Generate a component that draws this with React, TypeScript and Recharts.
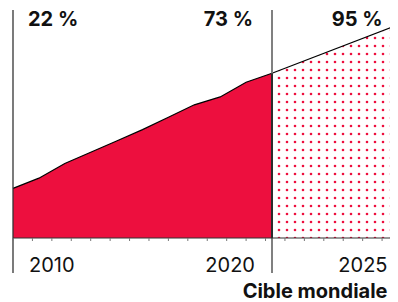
import React from 'react';
import { ComposedChart, Area, XAxis, YAxis, ReferenceLine, ReferenceDot } from 'recharts';

// share of population covered (%)
const years = [2010, 2011, 2012, 2013, 2014, 2015, 2016, 2017, 2018, 2019, 2020];
const share = [22, 26.5, 33, 38, 43, 48, 53.5, 59, 62.5, 69, 73];
const targetYears = [2020, 2025];
const targetShare = [73, 95];

const minorTicks = [
  2010, 2010.75, 2011.5, 2012.25, 2013, 2013.75, 2014.5, 2015.25, 2016, 2016.75, 2017.5,
  2018.25, 2019, 2019.75, 2020.5, 2021.25, 2022, 2022.75, 2023.5, 2024.25, 2025,
];
const yTicks = [0, 20, 40, 60, 80, 100];
const yearTicks = [2010, 2020, 2025];
const caption = 'Cible mondiale';

const RED = '#ED0F3E';
const INK = '#111111';
const FONT = 'Inter, "Noto Sans", sans-serif';
const Y_TOP = 101;
const Y_DROP = -15.5; // how far the vertical rules run below the baseline

const data = [
  ...years.map((year, i) => {
    const t = targetYears.indexOf(year);
    return { year, actual: share[i], target: t >= 0 ? targetShare[t] : null };
  }),
  ...targetYears
    .filter((y) => !years.includes(y))
    .map((year) => ({ year, actual: null, target: targetShare[targetYears.indexOf(year)] })),
];

const YearTick = (props: any) => {
  const { x, y, payload } = props;
  const v = payload.value;
  const first = v === yearTicks[0];
  const last = v === yearTicks[yearTicks.length - 1];
  const dx = first ? 16 : last ? -14 : -17;
  return (
    <g>
      <text
        x={x + dx}
        y={y + 30}
        textAnchor={first ? 'start' : 'end'}
        fontSize={20}
        fontFamily={FONT}
        fill={INK}
      >
        {v}
      </text>
      {last && (
        <text x={x - 14} y={y + 56} textAnchor="end" fontSize={20} fontWeight={700} fontFamily={FONT} fill={INK}>
          {caption}
        </text>
      )}
    </g>
  );
};

const MinorTick = () => <g />;

const pctLabel = (text: string, dx: number, anchor: 'start' | 'end') => (p: any) => (
  <text
    x={p.viewBox.x + p.viewBox.width / 2 + dx}
    y={p.viewBox.y + p.viewBox.height / 2 + 16}
    textAnchor={anchor}
    fontSize={20}
    fontWeight={700}
    fontFamily={FONT}
    fill={INK}
  >
    {text}
  </text>
);

export default function App() {
  const last = targetShare.length - 1;
  return (
    <div style={{ width: 390, height: 294, overflow: 'hidden' }}>
      <ComposedChart width={400} height={294} data={data} margin={{ top: 2, right: 6.5, left: 5, bottom: 0 }}>
        <defs>
          <pattern id="dots" patternUnits="userSpaceOnUse" x={3} y={2} width={8} height={8}>
            <circle cx={4} cy={4} r={1.3} fill={RED} />
          </pattern>
        </defs>
        <XAxis
          xAxisId="a"
          dataKey="year"
          type="number"
          domain={[2010, 2025]}
          ticks={minorTicks}
          interval={0}
          tick={<MinorTick />}
          tickSize={3}
          tickLine={{ stroke: '#777' }}
          axisLine={{ stroke: '#333', strokeWidth: 1.2 }}
          height={4}
        />
        <XAxis
          xAxisId="b"
          dataKey="year"
          type="number"
          domain={[2010, 2025]}
          ticks={yearTicks}
          interval={0}
          tick={<YearTick />}
          tickSize={0}
          tickMargin={0}
          tickLine={false}
          axisLine={false}
          height={60}
        />
        <YAxis
          type="number"
          domain={[0, Y_TOP]}
          ticks={yTicks}
          interval={0}
          tick={<MinorTick />}
          tickSize={2}
          tickLine={{ stroke: '#555' }}
          axisLine={false}
          mirror
          width={0}
        />
        <Area
          xAxisId="a"
          dataKey="actual"
          type="linear"
          fill={RED}
          fillOpacity={1}
          stroke="#000"
          strokeWidth={1.2}
          isAnimationActive={false}
        />
        <Area
          xAxisId="a"
          dataKey="target"
          type="linear"
          fill="url(#dots)"
          fillOpacity={1}
          stroke="#000"
          strokeWidth={1.2}
          isAnimationActive={false}
        />
        <ReferenceLine
          xAxisId="a"
          segment={[{ x: years[0], y: Y_DROP }, { x: years[0], y: Y_TOP }]}
          stroke="#333"
          strokeWidth={1.3}
          ifOverflow="visible"
        />
        <ReferenceLine
          xAxisId="a"
          segment={[{ x: targetYears[0], y: Y_DROP }, { x: targetYears[0], y: Y_TOP }]}
          stroke="#808080"
          strokeWidth={2}
          ifOverflow="visible"
        />
        <ReferenceLine
          xAxisId="a"
          segment={[{ x: targetYears[0], y: 0 }, { x: targetYears[0], y: targetShare[0] }]}
          stroke="#111"
          strokeWidth={1.5}
          ifOverflow="visible"
        />
        <ReferenceDot
          xAxisId="a"
          x={years[0]}
          y={Y_TOP}
          r={1}
          fill="none"
          stroke="none"
          label={pctLabel(`${share[0]} %`, 15, 'start')}
        />
        <ReferenceDot
          xAxisId="a"
          x={targetYears[0]}
          y={Y_TOP}
          r={1}
          fill="none"
          stroke="none"
          label={pctLabel(`${targetShare[0]} %`, -19, 'end')}
        />
        <ReferenceDot
          xAxisId="a"
          x={targetYears[last]}
          y={Y_TOP}
          r={1}
          fill="none"
          stroke="none"
          ifOverflow="visible"
          label={pctLabel(`${targetShare[last]} %`, -19, 'end')}
        />
      </ComposedChart>
    </div>
  );
}
